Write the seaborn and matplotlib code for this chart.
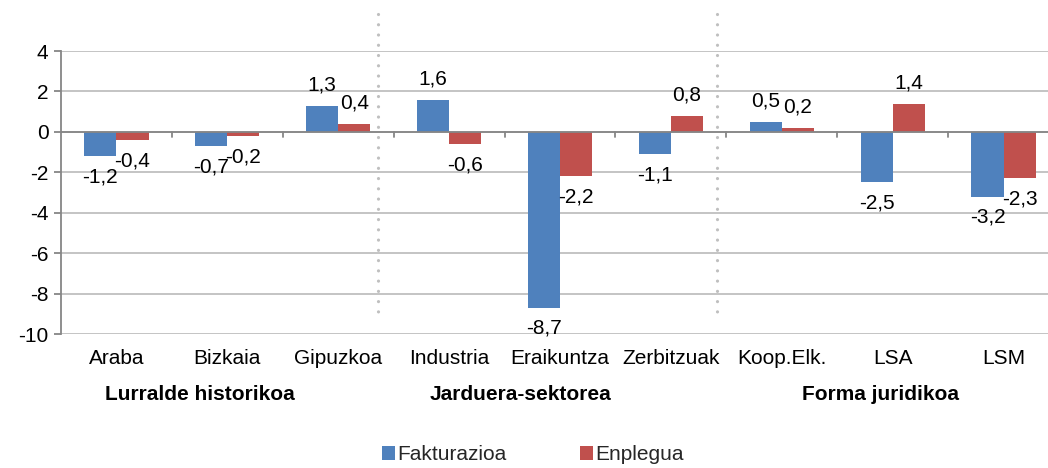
"""
Fakturazioa eta Enplegua: aldakuntza taldeka
"""
import pandas as pd
import numpy as np
import matplotlib
matplotlib.use('Agg')
import matplotlib.pyplot as plt
import seaborn as sns
from matplotlib.patches import Patch

sns.set_style('white')
plt.rcParams['font.family'] = ['Liberation Sans', 'DejaVu Sans']
plt.rcParams['axes.unicode_minus'] = False

# datuak
categories = ['Araba', 'Bizkaia', 'Gipuzkoa', 'Industria', 'Eraikuntza',
              'Zerbitzuak', 'Koop.Elk.', 'LSA', 'LSM']
fakturazioa = [-1.2, -0.7, 1.3, 1.6, -8.7, -1.1, 0.5, -2.5, -3.2]
enplegua = [-0.4, -0.2, 0.4, -0.6, -2.2, 0.8, 0.2, 1.4, -2.3]
series_names = ['Fakturazioa', 'Enplegua']
groups = ['Lurralde historikoa', 'Jarduera-sektorea', 'Forma juridikoa']
group_centers = [200, 521, 880]  # pixel x
y_ticks = [4, 2, 0, -2, -4, -6, -8, -10]

colors = ['#4F81BD', '#C0504D']
grid_col = '#BFBFBF'
axis_col = '#868686'
FS = 15

df = pd.DataFrame({
    'kategoria': categories * 2,
    'balioa': fakturazioa + enplegua,
    'seriea': [series_names[0]] * len(categories) + [series_names[1]] * len(categories),
})

W, H = 1048, 468
fig = plt.figure(figsize=(W / 100, H / 100), dpi=100)
# ardatzak: x 61..1059 px (eskuinean moztuta), y 51..334 px
ax = fig.add_axes([61 / W, (H - 334) / H, (1059 - 61) / W, (334 - 51) / H])

sns.barplot(data=df, x='kategoria', y='balioa', hue='seriea', order=categories,
            hue_order=series_names, palette=colors, width=0.58, dodge=True,
            saturation=1, edgecolor='none', legend=False, ax=ax, zorder=3)

ax.set_ylim(-10, 4)
ax.set_xlim(-0.5, 8.5)
ax.set_yticks(y_ticks)
ax.set_yticklabels([str(t) for t in y_ticks], fontsize=FS)
ax.yaxis.grid(True, color=grid_col, lw=1.3, zorder=0)
ax.set_axisbelow(True)
for s in ['top', 'right', 'bottom']:
    ax.spines[s].set_visible(False)
ax.spines['left'].set_color(axis_col)
ax.spines['left'].set_linewidth(1.3)
ax.tick_params(axis='y', length=5, width=1.3, color=axis_col, pad=4, left=True,
               labelcolor='black')
ax.tick_params(axis='x', length=0, pad=11, labelsize=FS, labelcolor='black')
ax.set_xlabel('')
ax.set_ylabel('')

# zero lerroa eta x-ardatzeko markak
ax.axhline(0, color=axis_col, lw=1.3, zorder=4)
for b in np.arange(0.5, len(categories) - 0.5, 1.0):
    ax.plot([b, b], [0, -0.25], color=axis_col, lw=1.3, zorder=4)

# balio etiketak
for cont in ax.containers:
    ax.bar_label(cont, labels=[f'{v:.1f}'.replace('.', ',') for v in cont.datavalues],
                 padding=8, fontsize=FS, color='black')

# talde bereizleak (puntuak)
for xb in [2.356, 5.42]:
    ax.plot([xb, xb], [5.84, -8.96], color=grid_col, lw=2.3,
            linestyle=(0, (0.01, 3.2)), dash_capstyle='round', clip_on=False, zorder=2)

# talde izenak
for g, cx in zip(groups, group_centers):
    fig.text(cx / W, 1 - 395 / H, g, ha='center', va='center',
             fontsize=FS, fontweight='bold', color='black')

# legenda
handles = [Patch(facecolor=c, edgecolor='none') for c in colors]
fig.legend(handles, series_names, loc='center', bbox_to_anchor=(533 / W, 1 - 455 / H),
           ncol=2, frameon=False, fontsize=FS, handlelength=0.62, handleheight=0.62,
           handletextpad=0.12, columnspacing=3.5)

plt.savefig('out.png', dpi=100)
